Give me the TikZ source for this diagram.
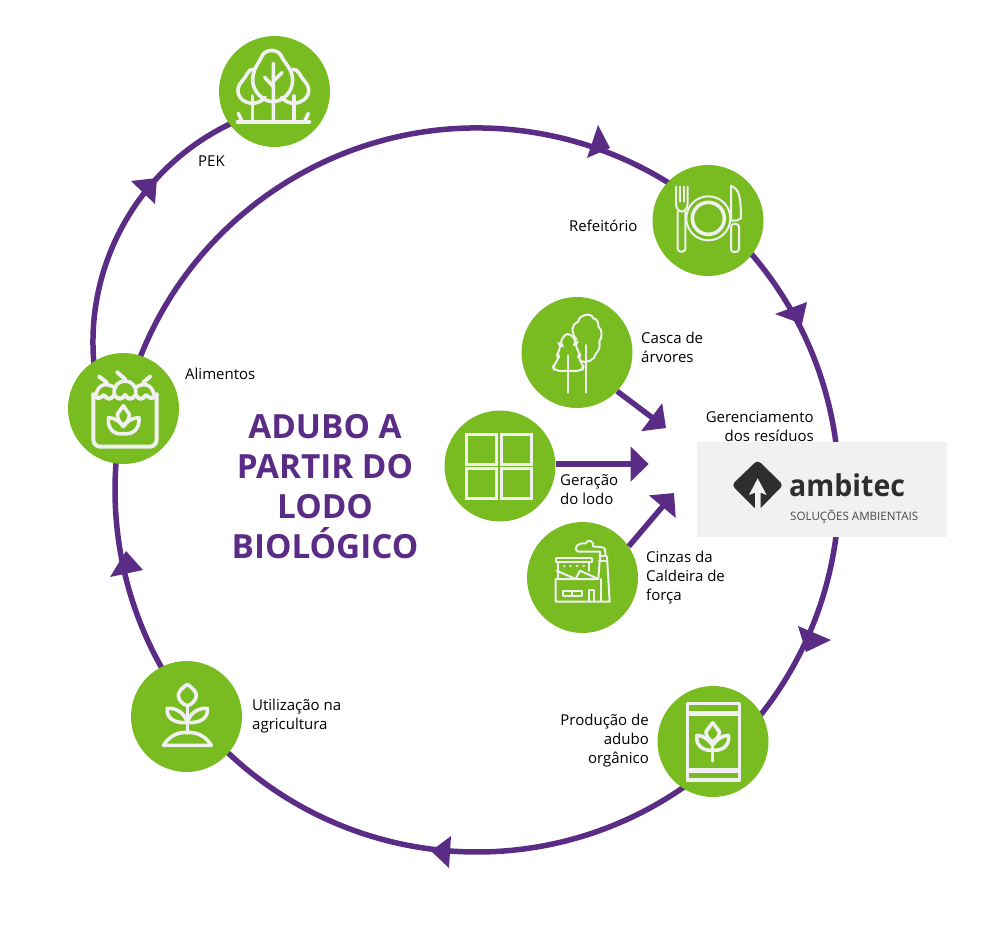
\documentclass[tikz,border=0pt]{standalone}
\usepackage{fontspec}
\setmainfont{Open Sans}
\usetikzlibrary{calc,arrows.meta}
\definecolor{roxo}{HTML}{5B2C86}
\definecolor{verde}{HTML}{79BC21}
\definecolor{icone}{HTML}{F0F0F0}
\definecolor{caixa}{HTML}{F1F1F1}
\definecolor{logo}{HTML}{2E2E2E}
\definecolor{logob}{HTML}{484848}
\tikzset{
  disc/.style={circle,fill=verde,minimum size=111pt,inner sep=0pt},
  ringline/.style={draw=roxo,line width=5.5pt},
  feed/.style={draw=roxo,line width=5.5pt,-{Triangle[length=18pt,width=34pt]}},
  ringtip/.style={fill=roxo},
  label/.style={font=\fontsize{15}{19}\selectfont,inner sep=0pt,text=black},
  ltext/.style={label,anchor=west,align=left},
  rtext/.style={label,anchor=east,align=right},
  icon/.style={draw=icone,line width=3.6pt,line cap=round,line join=round},
  thin icon/.style={draw=icone,line width=2pt,line cap=round,line join=round},
  zoomed/.style={x=0.3333pt,y=-0.3333pt}
}
\begin{document}
\begin{tikzpicture}[x=1pt,y=-1pt]
\useasboundingbox (0,0) rectangle (1000,924);
% ring anchors
\coordinate (ringc) at (477,490);
\coordinate (upc) at (335,342);
\coordinate (ra) at ($(ringc)+(192.9:362)$);
\coordinate (rb) at ($(ringc)+(310.7:362)$);
\coordinate (rc) at ($(ringc)+(406.8:362)$);
\coordinate (rd) at ($(ringc)+(502:362)$);
\coordinate (ua) at ($(upc)+(165:242)$);
% ring connectors
\draw[ringline] (ra) arc[start angle=192.9,end angle=310.7,radius=362];
\draw[ringline] (rb) arc[start angle=310.7,end angle=406.8,radius=362];
\draw[ringline] (rc) arc[start angle=406.8,end angle=502,radius=362];
\draw[ringline] (rd) arc[start angle=502,end angle=552.9,radius=362];
\draw[ringline] (ua) arc[start angle=165,end angle=250,radius=242];
% ring arrowheads
\fill[ringtip] (598,125)--(610,148)--(587,158)--cycle;
\fill[ringtip] (807,302)--(775,314)--(802,324)--cycle;
\fill[ringtip] (798,626)--(831,640)--(806,652)--cycle;
\fill[ringtip] (451,836)--(431,851)--(449,868)--cycle;
\fill[ringtip] (126,551)--(143,570)--(110,577)--cycle;
\fill[ringtip] (157,178)--(131,181)--(155,204)--cycle;
% discs
\node[disc] (pek) at (274.5,91.5) {};
\node[disc] (refeitorio) at (708,220.5) {};
\node[disc] (casca) at (577,352.5) {};
\node[disc] (alimentos) at (123.5,408.5) {};
\node[disc] (geracao) at (500,466) {};
\node[disc] (cinzas) at (582.5,577.5) {};
\node[disc] (producao) at (713,741.5) {};
\node[disc] (utilizacao) at (186.5,716.5) {};
% feeding arrows
\coordinate (ta) at (666,428);
\coordinate (tc) at (674,493);
\draw[feed] (casca.-44) -- (ta);
\draw[feed] (geracao.2) -- ++(93,0) coordinate (tb);
\draw[feed] (cinzas.34) -- (tc);
% ambitec box
\node[fill=caixa,minimum width=250pt,minimum height=95pt,inner sep=0pt] (ambitec) at (822,489.5) {};
\begin{scope}[shift={(690,400)},zoomed]
  \fill[logo,rounded corners=4pt] (203,180)--(280,255)--(203,333)--(125,255)--cycle;
  \fill[caixa] (203,235)--(230,285)--(212,278)--(212,328)--(195,328)--(195,278)--(177,285)--cycle;
\end{scope}
\node[inner sep=0pt,anchor=base west,text=logo,font=\fontsize{30}{30}\selectfont\bfseries] (ambname) at (789,496) {\scalebox{0.95}[1]{ambitec}};
\node[inner sep=0pt,anchor=base west,text=logob,font=\fontsize{11.6}{12}\selectfont] (ambsub) at (790,520.5) {SOLUÇÕES AMBIENTAIS};
% labels
\node[ltext] (lpek) at (198,161) {PEK};
\node[ltext] (lref) at (569,226) {Refeitório};
\node[ltext] (lcas) at (641,347.5) {Casca de\\árvores};
\node[ltext] (lali) at (185,374) {Alimentos};
\node[rtext] (lger) at (814,426.5) {Gerenciamento\\dos resíduos};
\node[ltext] (lgel) at (560,490) {Geração\\do lodo};
\node[ltext] (lcin) at (646,578) {Cinzas da\\Caldeira de\\força};
\node[rtext] (lpro) at (649,741) {Produção de\\adubo\\orgânico};
\node[ltext] (luti) at (252,716.5) {Utilização na\\agricultura};
\node[font=\fontsize{33.3}{40}\selectfont\bfseries,text=roxo,align=center,inner sep=0pt] (titulo) at (325,486.5) {ADUBO A\\PARTIR DO\\LODO\\BIOLÓGICO};
% icon: trees
\begin{scope}[shift={(200,20)},zoomed]
  \draw[icon] (218,245) .. controls (190,245) and (158,215) .. (158,180) .. controls (158,150) and (175,130) .. (185,110) .. controls (195,85) and (235,85) .. (245,110) .. controls (255,130) and (278,150) .. (278,180) .. controls (278,215) and (250,245) .. (218,245);
  \draw[icon] (160,148) .. controls (145,145) and (140,170) .. (125,185) .. controls (105,205) and (110,245) .. (155,250) .. controls (170,250) and (185,245) .. (195,232);
  \draw[icon] (278,148) .. controls (295,145) and (300,170) .. (315,185) .. controls (335,205) and (330,245) .. (282,250) .. controls (270,250) and (255,245) .. (245,232);
  \draw[icon] (220,130) -- (220,298) (194,172) -- (220,200) (246,158) -- (220,184);
  \draw[icon] (158,228) -- (158,298) (282,228) -- (282,298);
  \draw[icon,line width=4pt] (113,305) -- (328,305);
  \draw[icon] (115,280) -- (125,302) (325,280) -- (315,302);
\end{scope}
% icon: plate and cutlery
\begin{scope}[shift={(640,150)},zoomed]
  \draw[thin icon] (205,205) circle[radius=66];
  \draw[icon] (205,205) circle[radius=48];
  \draw[thin icon] (108,110) -- (108,160) .. controls (108,175) and (115,183) .. (125,185) .. controls (135,183) and (143,175) .. (143,160) -- (143,110);
  \draw[thin icon] (120,110) -- (120,155) (132,110) -- (132,155);
  \draw[thin icon,rounded corners=3pt] (113,185) -- (113,305) -- (136,305) -- (136,185);
  \draw[thin icon] (273,108) .. controls (295,115) and (303,135) .. (303,205) -- (290,212) -- (273,212) -- cycle;
  \draw[thin icon,rounded corners=3pt] (273,222) -- (273,306) -- (297,306) -- (297,222) -- cycle;
\end{scope}
% icon: bark trees
\begin{scope}[shift={(510,290)},zoomed]
  \draw[thin icon,rounded corners=5pt] (172,125) -- (147,160) -- (157,168) -- (138,190) -- (150,205) -- (128,225) -- (133,243) -- (217,243) -- (222,225) -- (203,205) -- (212,190) -- (192,165) -- (202,155) -- cycle;
  \draw[thin icon] (200,148) .. controls (185,135) and (180,105) .. (205,95) .. controls (205,75) and (245,65) .. (250,85) .. controls (265,85) and (265,105) .. (265,110) .. controls (280,120) and (275,145) .. (268,155) .. controls (272,170) and (265,185) .. (258,190) .. controls (255,210) and (230,222) .. (210,212);
  \draw[thin icon] (175,197) -- (175,308) (228,165) -- (228,308);
\end{scope}
% icon: food bag
\begin{scope}[shift={(60,345)},zoomed]
  \draw[icon,line width=4pt,rounded corners=7pt] (100,148) -- (100,305) -- (290,305) -- (290,148);
  \draw[icon,line width=4pt] (100,148) .. controls (110,165) and (120,160) .. (132,150) .. controls (142,165) and (152,165) .. (163,150) .. controls (175,165) and (185,165) .. (195,150) .. controls (205,165) and (215,165) .. (227,150) .. controls (237,165) and (247,165) .. (258,150) .. controls (268,160) and (280,165) .. (290,148);
  \draw[icon] (108,150) .. controls (112,125) and (130,110) .. (160,125) (163,148) .. controls (155,95) and (235,95) .. (227,148) (230,125) .. controls (260,110) and (278,125) .. (282,150);
  \draw[icon,line width=4pt] (118,95) -- (140,112) (172,82) -- (195,102) (270,95) -- (250,112);
  \draw[icon] (190,182) -- (172,208) .. controls (172,225) and (182,235) .. (190,240) .. controls (198,235) and (208,225) .. (208,208) -- cycle;
  \draw[icon] (145,218) .. controls (142,255) and (165,270) .. (190,266) .. controls (215,270) and (240,255) .. (237,218) .. controls (215,218) and (200,230) .. (190,245) .. controls (180,230) and (165,218) .. (145,218) -- cycle;
\end{scope}
% icon: windows
\begin{scope}[shift={(440,400)},zoomed]
  \draw[draw=icone,line width=3pt] (78,103) rectangle (168,192) (185,103) rectangle (275,192) (78,206) rectangle (168,295) (185,206) rectangle (275,295);
\end{scope}
% icon: factory
\begin{scope}[shift={(515,515)},zoomed]
  \draw[thin icon] (122,192) -- (122,260) -- (284,260) -- (276,125) (122,192) -- (250,192);
  \draw[thin icon] (122,128) rectangle (232,142);
  \draw[thin icon] (130,142) -- (130,190) (222,142) -- (222,168);
  \draw[thin icon] (125,167) -- (182,192) -- (195,167) -- (250,192) -- (255,125);
  \draw[thin icon] (147,152) -- (149,152) (165,152) -- (167,152) (185,152) -- (187,152) (205,152) -- (207,152);
  \draw[thin icon] (221,260) -- (221,226) -- (238,226) -- (238,260);
  \draw[thin icon] (145,229) rectangle (202,243) (172,229) -- (172,243);
  \draw[thin icon] (253,122) -- (272,122) (252,138) -- (272,138) (258,192) -- (258,260);
  \draw[thin icon] (272,122) -- (270,103) .. controls (268,95) and (250,95) .. (235,95) .. controls (238,78) and (218,70) .. (212,85) .. controls (190,82) and (170,100) .. (190,110) -- (235,110) -- (255,110) -- (255,122);
\end{scope}
% icon: package
\begin{scope}[shift={(670,680)},zoomed]
  \draw[icon] (52,71) rectangle (209,300);
  \draw[icon,line width=4.4pt] (58,101) -- (203,101) (58,271) -- (203,271);
  \draw[icon] (128,128) -- (108,155) .. controls (108,170) and (118,180) .. (128,185) .. controls (138,180) and (148,170) .. (148,155) -- cycle;
  \draw[icon] (81,166) .. controls (75,195) and (100,215) .. (128,210) .. controls (156,215) and (181,195) .. (175,166) .. controls (155,166) and (140,180) .. (128,195) .. controls (116,180) and (101,166) .. (81,166) -- cycle;
  \draw[icon] (128,195) -- (128,243);
\end{scope}
% icon: seedling
\begin{scope}[shift={(120,655)},zoomed]
  \draw[icon] (202,88) .. controls (185,100) and (175,110) .. (175,122) .. controls (175,135) and (190,150) .. (202,152) .. controls (214,150) and (229,135) .. (229,122) .. controls (229,110) and (219,100) .. (202,88) -- cycle;
  \draw[icon] (142,160) .. controls (138,190) and (165,205) .. (202,203) .. controls (195,175) and (170,158) .. (142,160) -- cycle;
  \draw[icon] (262,160) .. controls (266,190) and (239,205) .. (202,203) .. controls (209,175) and (234,158) .. (262,160) -- cycle;
  \draw[icon] (202,152) -- (202,235);
  \draw[icon] (130,271) .. controls (150,240) and (175,232) .. (202,232) .. controls (229,232) and (254,240) .. (274,271) -- cycle;
\end{scope}
\end{tikzpicture}
\end{document}
